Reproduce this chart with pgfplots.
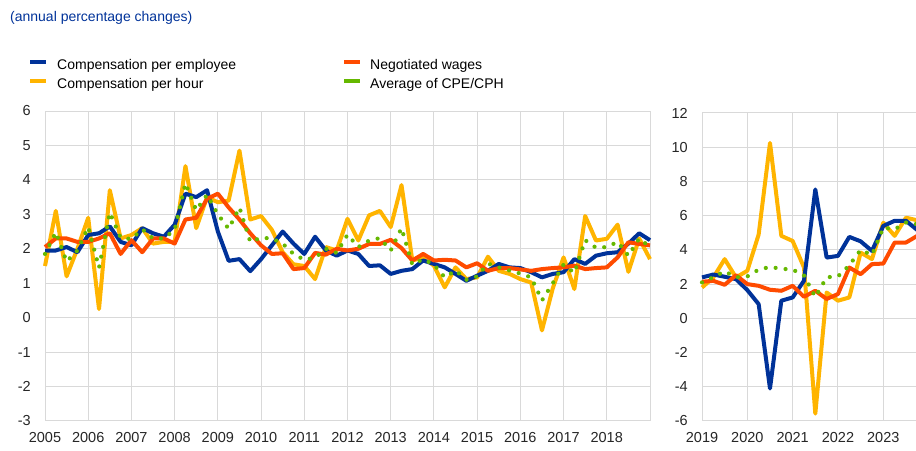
\documentclass[border=0pt]{standalone}
\usepackage{pgfplots}
\pgfplotsset{compat=1.18}
\usepackage{pgfplotstable}
\usepackage{fontspec}
\setmainfont{Liberation Sans}
\definecolor{ecbblue}{RGB}{0,50,153}
\definecolor{ecbyellow}{RGB}{255,180,0}
\definecolor{ecborange}{RGB}{255,75,0}
\definecolor{ecbgreen}{RGB}{101,184,0}
\definecolor{gridgrey}{RGB}{217,217,217}
\definecolor{labgrey}{RGB}{38,38,38}

% quarterly data, 2005-2018 panel
\pgfplotstableread{
x cpe cph neg avg
2005.00 1.95 1.50 2.05 1.85
2005.25 1.95 3.10 2.30 2.48
2005.50 2.05 1.20 2.30 1.63
2005.75 1.90 2.00 2.20 1.95
2006.00 2.40 2.90 2.20 2.63
2006.25 2.45 0.25 2.30 1.45
2006.50 2.65 3.70 2.45 3.05
2006.75 2.20 2.30 1.85 2.32
2007.00 2.10 2.40 2.25 2.28
2007.25 2.60 2.60 1.90 2.57
2007.50 2.45 2.15 2.30 2.30
2007.75 2.35 2.20 2.30 2.30
2008.00 2.70 2.20 2.15 2.55
2008.25 3.60 4.40 2.85 3.90
2008.50 3.50 2.60 2.90 3.12
2008.75 3.70 3.50 3.45 3.57
2009.00 2.50 3.35 3.60 3.00
2009.25 1.65 3.40 3.20 2.58
2009.50 1.70 4.85 2.85 3.20
2009.75 1.35 2.85 2.45 2.20
2010.00 1.70 2.95 2.10 2.32
2010.25 2.10 2.55 1.85 2.30
2010.50 2.50 1.90 1.87 2.15
2010.75 2.15 1.55 1.41 1.85
2011.00 1.85 1.50 1.44 1.68
2011.25 2.35 1.12 1.88 1.74
2011.50 1.95 2.05 1.83 2.00
2011.75 1.80 1.95 2.00 1.88
2012.00 1.95 2.87 1.95 2.41
2012.25 1.85 2.24 2.00 2.05
2012.50 1.50 2.97 2.14 2.24
2012.75 1.52 3.10 2.14 2.31
2013.00 1.27 2.63 2.26 1.95
2013.25 1.36 3.85 2.02 2.60
2013.50 1.41 1.66 1.66 1.54
2013.75 1.66 1.75 1.85 1.70
2014.00 1.56 1.51 1.66 1.54
2014.25 1.46 0.88 1.68 1.17
2014.50 1.27 1.46 1.66 1.37
2014.75 1.07 1.12 1.46 1.10
2015.00 1.22 1.17 1.58 1.20
2015.25 1.36 1.77 1.36 1.57
2015.50 1.56 1.36 1.44 1.46
2015.75 1.46 1.27 1.44 1.37
2016.00 1.44 1.12 1.40 1.28
2016.25 1.32 1.02 1.36 1.17
2016.50 1.17 -0.37 1.41 0.50
2016.75 1.27 0.85 1.44 1.00
2017.00 1.32 1.75 1.46 1.54
2017.25 1.70 0.83 1.51 1.30
2017.50 1.56 2.95 1.41 2.25
2017.75 1.80 2.24 1.44 2.03
2018.00 1.87 2.29 1.46 2.05
2018.25 1.90 2.70 1.75 2.20
2018.50 2.15 1.33 2.19 1.80
2018.75 2.45 2.30 2.14 2.30
2019.00 2.25 1.70 2.10 2.05
}\early

% quarterly data, 2019-2023 panel
\pgfplotstableread{
x cpe cph neg avg
2019.00 2.39 1.80 2.14 2.10
2019.25 2.56 2.39 2.19 2.40
2019.50 2.43 3.46 1.96 2.75
2019.75 2.29 2.39 2.52 2.40
2020.00 1.65 2.78 2.00 2.45
2020.25 0.83 4.90 1.90 2.85
2020.50 -4.10 10.25 1.67 3.00
2020.75 1.03 4.82 1.61 2.90
2021.00 1.22 4.52 1.90 2.85
2021.25 2.20 2.97 1.26 2.50
2021.50 7.53 -5.57 1.61 1.25
2021.75 3.55 1.51 1.13 2.40
2022.00 3.65 1.03 1.42 2.45
2022.25 4.76 1.22 2.97 3.10
2022.50 4.50 3.84 2.58 4.00
2022.75 3.94 3.46 3.17 3.70
2023.00 5.40 5.59 3.20 5.30
2023.25 5.70 4.82 4.43 5.20
2023.50 5.70 5.88 4.43 5.60
2023.75 5.16 5.73 4.82 5.50
}\late

\pgfplotsset{
  panel/.style={
    scale only axis, anchor=south west, clip=false,
    axis line style={draw=gridgrey, line width=1pt},
    grid=major, grid style={draw=gridgrey, line width=1pt},
    tick style={draw=none},
    tick label style={font=\fontsize{14.5}{17}\selectfont, text=labgrey, inner sep=0pt},
    /pgf/number format/assume math mode=true,
    xticklabel style={/pgf/number format/1000 sep={}, yshift=-11pt},
    yticklabel style={xshift=-14pt},
  },
  ser/.style={line width=4pt, line join=round},
  dots/.style={ecbgreen, line width=4.2pt, line cap=round, dash pattern=on 0pt off 10pt},
}

\begin{document}
\begin{tikzpicture}
\useasboundingbox (0,0) rectangle (916pt,450pt);

\node[anchor=base west, inner sep=0pt, text=ecbblue, font=\fontsize{14}{17}\selectfont]
  at (10pt,428pt) {(annual percentage changes)};

% legend
\begin{scope}[font=\fontsize{14}{17}\selectfont]
\draw[ecbblue, line width=4pt] (30pt,388pt) -- (46pt,388pt);
\node[anchor=base west, inner sep=0pt] at (57pt,380pt) {Compensation per employee};
\draw[ecbyellow, line width=4pt] (30pt,369pt) -- (46pt,369pt);
\node[anchor=base west, inner sep=0pt] at (57pt,361pt) {Compensation per hour};
\draw[ecborange, line width=4pt] (344pt,388pt) -- (360pt,388pt);
\node[anchor=base west, inner sep=0pt] at (370pt,380pt) {Negotiated wages};
\draw[ecbgreen, line width=4pt] (344pt,369pt) -- (360pt,369pt);
\node[anchor=base west, inner sep=0pt] at (370pt,361pt) {Average of CPE/CPH};
\end{scope}

\begin{axis}[panel, at={(45pt,29pt)}, width=605pt, height=310pt,
  xmin=2005, xmax=2019, ymin=-3, ymax=6,
  xtick={2005,...,2018}, ytick={-3,...,6}]
\addplot[ser, ecbyellow] table[x=x, y=cph] {\early};
\addplot[ser, ecbblue] table[x=x, y=cpe] {\early};
\addplot[ser, ecborange] table[x=x, y=neg] {\early};
\addplot[dots] table[x=x, y=avg] {\early};
\end{axis}

\begin{axis}[panel, at={(702pt,29pt)}, width=215.3pt, height=308pt,
  xmin=2019, xmax=2023.75, ymin=-6, ymax=12,
  xtick={2019,...,2023}, ytick={-6,-4,...,12}]
\addplot[ser, ecbyellow] table[x=x, y=cph] {\late};
\addplot[ser, ecbblue] table[x=x, y=cpe] {\late};
\addplot[ser, ecborange] table[x=x, y=neg] {\late};
\addplot[dots] table[x=x, y=avg] {\late};
\end{axis}
\end{tikzpicture}
\end{document}
